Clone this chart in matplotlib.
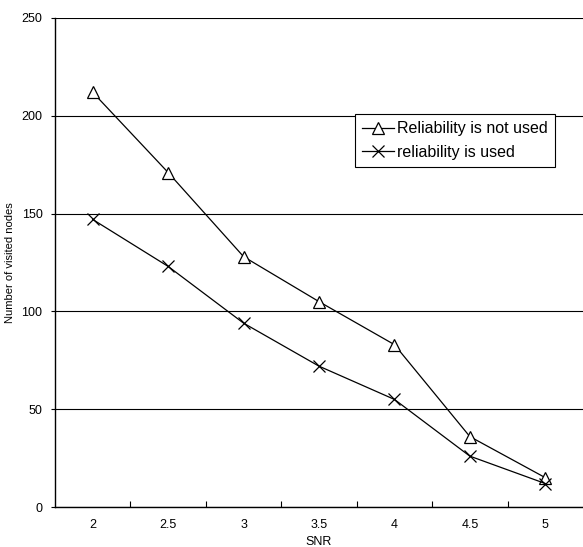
import numpy as np
import matplotlib
matplotlib.use('Agg')
import matplotlib.pyplot as plt

# data
snr = ['2', '2.5', '3', '3.5', '4', '4.5', '5']
not_used = [212, 171, 128, 105, 83, 36, 15]
used = [147, 123, 94, 72, 55, 26, 12]

plt.rcParams['font.family'] = ['Liberation Sans', 'DejaVu Sans']

fig = plt.figure(figsize=(5.83, 5.47), dpi=100)
ax = fig.add_axes([55 / 583, 1 - 507 / 547, 1 - 55 / 583, (507 - 18) / 547])

x = np.arange(len(snr))
ax.plot(x, not_used, color='black', lw=0.9, marker='^', ms=9, mfc='white',
        mec='black', mew=0.9, label='Reliability is not used', zorder=3)
ax.plot(x, used, color='black', lw=0.9, marker='x', ms=9, mew=0.9,
        label='reliability is used', zorder=3)

ax.set_xlim(-0.5, len(snr) - 0.5)
ax.set_ylim(0, 250)
ax.set_yticks([0, 50, 100, 150, 200, 250])
ax.yaxis.grid(True, color='black', lw=0.8)
ax.set_axisbelow(True)

ax.set_xticks(x)
ax.set_xticklabels(snr, fontsize=9)
ax.set_xticks(np.arange(0.5, len(snr) - 0.5), minor=True)
ax.tick_params(axis='x', which='major', length=0, pad=9)
ax.tick_params(axis='x', which='minor', direction='in', length=4, width=0.8)
ax.tick_params(axis='y', labelsize=9, length=3, width=0.8, pad=6)

for s in ['top', 'right']:
    ax.spines[s].set_visible(False)
for s in ['left', 'bottom']:
    ax.spines[s].set_linewidth(1.0)

ax.set_xlabel('SNR', fontsize=9)
ax.xaxis.set_label_coords(0.5, -29 / 489)
ax.set_ylabel('Number of visited nodes', fontsize=8)
ax.yaxis.set_label_coords(-40 / 528, 0.5)

leg = ax.legend(loc='upper left', bbox_to_anchor=(300 / 528, (507 - 114) / 489),
                fontsize=11.5, frameon=True, fancybox=False, shadow=False,
                borderpad=0.45, handlelength=2.0, handletextpad=0.2,
                labelspacing=0.55, borderaxespad=0)
leg.get_frame().set_edgecolor('black')
leg.get_frame().set_linewidth(0.8)
leg.get_frame().set_alpha(1)

fig.savefig('out.png', dpi=100)
